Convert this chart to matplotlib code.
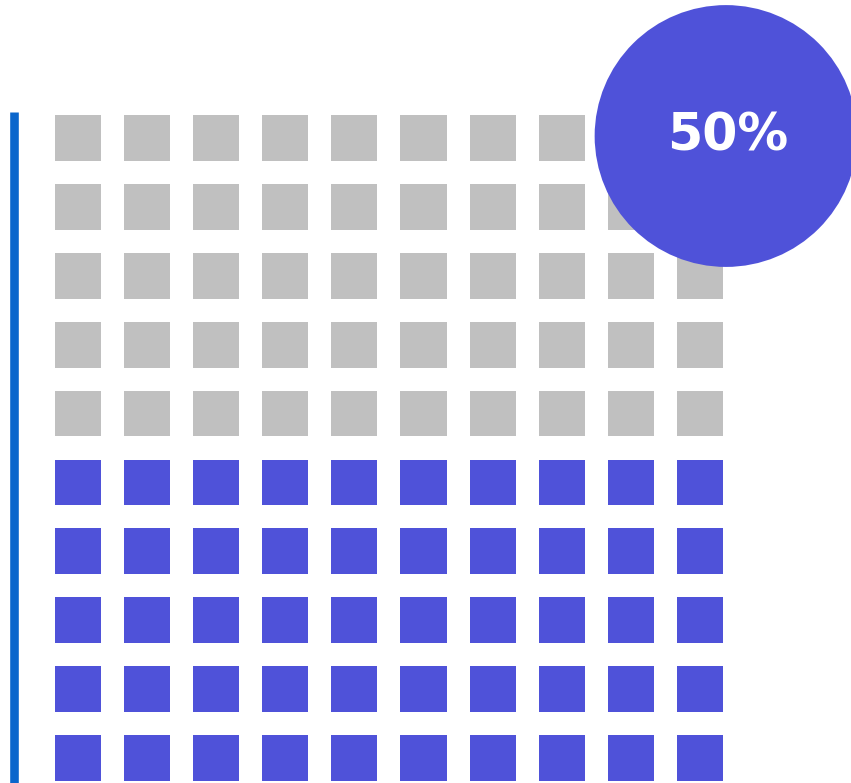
import numpy as np
import matplotlib.pyplot as plt
from matplotlib.patches import Rectangle, Circle

# waffle data
n_rows = 10
n_cols = 10
filled = 50
total = 100
label = '%d%%' % round(100 * filled / total)

blue = '#4F52D9'
grey = '#C0C0C0'
line_col = '#0A66CC'

fig = plt.figure(figsize=(8.51, 7.83), dpi=100)
ax = fig.add_axes([0, 0, 1, 1])
ax.set_xlim(-0.796, 11.52)
ax.set_ylim(9.695, -1.669)
ax.axis('off')

size = 0.666
# cells are filled from the bottom row upward
for k in range(n_rows * n_cols):
	r = n_rows - 1 - k // n_cols
	c = k % n_cols
	col = blue if k < filled else grey
	ax.add_patch(Rectangle((c, r), size, size, facecolor=col, edgecolor='none'))

ax.plot([-0.6, -0.6], [-0.04, 9.7], color=line_col, linewidth=6.2, solid_capstyle='butt')

ax.add_patch(Circle((9.71, 0.305), 1.9, facecolor=blue, edgecolor='none', zorder=5))
ax.text(9.73, 0.522, label, color='white', fontsize=36.5, fontweight='bold',
	family='DejaVu Sans', ha='center', va='baseline', zorder=6)

fig.savefig('out.png', dpi=100)
